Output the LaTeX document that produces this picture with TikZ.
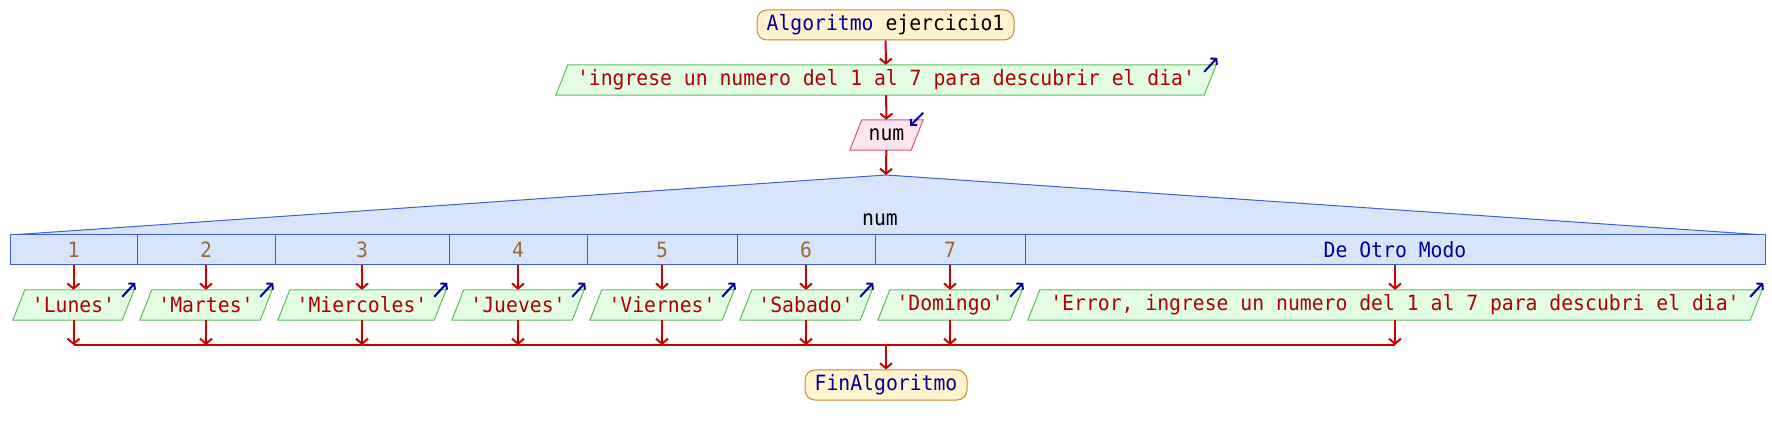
\documentclass[tikz,border=0pt]{standalone}
\usepackage{fontspec}
\setmonofont[FakeStretch=0.94]{DejaVu Sans Mono}
\usetikzlibrary{arrows.meta,backgrounds}
\definecolor{termfill}{HTML}{FFF2CF}
\definecolor{termdraw}{HTML}{C8882C}
\definecolor{outfill}{HTML}{E3FDE3}
\definecolor{outdraw}{HTML}{5CBF5C}
\definecolor{infill}{HTML}{FFE3EF}
\definecolor{indraw}{HTML}{CC5A8A}
\definecolor{swfill}{HTML}{D6E4FC}
\definecolor{swdraw}{HTML}{3E60CC}
\definecolor{flowred}{HTML}{CC0000}
\definecolor{strred}{HTML}{B00000}
\definecolor{kwblue}{HTML}{000099}
\definecolor{numbrown}{HTML}{9A6A35}
\newcommand\parabox[3]{%
  \filldraw[fill=#2,draw=#3,line width=1pt] (#1.south west) -- ([xshift=12pt]#1.north west) -- (#1.north east) -- ([xshift=-12pt]#1.south east) -- cycle;}
\begin{document}
\begin{tikzpicture}[x=1pt,y=-1pt,
  txt/.style={font=\ttfamily\fontsize{21}{25}\selectfont,inner sep=0pt},
  term/.style={txt,draw=termdraw,fill=termfill,rounded corners=10pt,line width=1pt,minimum height=30pt},
  outbox/.style={txt,minimum height=30pt,text=strred},
  inbox/.style={txt,minimum height=30pt,text=black},
  cell/.style={txt,draw=swdraw,fill=swfill,line width=1pt,minimum height=30pt,text=numbrown},
  flow/.style={draw=flowred,line width=2pt,-{Straight Barb[length=5pt,width=12pt]}},
  plain/.style={draw=flowred,line width=2pt},
  io/.style={draw=kwblue,line width=2pt,-{Straight Barb[length=4pt,width=9pt]}}
]
\useasboundingbox (0,0) rectangle (1772,435);

% start
\node[term,minimum width=257pt] (start) at (885.5,25) {\textcolor{kwblue}{Algoritmo} ejercicio1};
% top output
\node[outbox,minimum width=660pt] (out0) at (886,80) {'ingrese un numero del 1 al 7 para descubrir el dia'};
% input
\node[inbox,minimum width=73pt] (inp) at (886.5,135) {num};

% switch
\coordinate (apex) at (886,175);
\filldraw[fill=swfill,draw=swdraw,line width=1pt] (10,235) -- (apex) -- (1765,235);
\node[txt] (swlabel) at (880,220) {num};
\node[cell,minimum width=127pt] (c1) at (73.5,250) {1};
\node[cell,minimum width=138pt] (c2) at (206,250) {2};
\node[cell,minimum width=174pt] (c3) at (362,250) {3};
\node[cell,minimum width=138pt] (c4) at (518,250) {4};
\node[cell,minimum width=150pt] (c5) at (662,250) {5};
\node[cell,minimum width=138pt] (c6) at (806,250) {6};
\node[cell,minimum width=150pt] (c7) at (950,250) {7};
\node[cell,minimum width=740pt,text=kwblue] (c8) at (1395,250) {De Otro Modo};

% case outputs
\node[outbox,minimum width=121pt] (o1) at (73.5,305) {'Lunes'};
\node[outbox,minimum width=132pt] (o2) at (206,305) {'Martes'};
\node[outbox,minimum width=168pt] (o3) at (362,305) {'Miercoles'};
\node[outbox,minimum width=132pt] (o4) at (518,305) {'Jueves'};
\node[outbox,minimum width=144pt] (o5) at (662,305) {'Viernes'};
\node[outbox,minimum width=132pt] (o6) at (806,305) {'Sabado'};
\node[outbox,minimum width=144pt] (o7) at (950,305) {'Domingo'};
\node[outbox,minimum width=734pt] (o8) at (1395,305) {'Error, ingrese un numero del 1 al 7 para descubri el dia'};

% end
\node[term,minimum width=162pt,text=kwblue] (fin) at (886,385) {FinAlgoritmo};

\begin{scope}[on background layer]
  \parabox{out0}{outfill}{outdraw}
  \parabox{inp}{infill}{indraw}
  \foreach \n in {o1,o2,o3,o4,o5,o6,o7,o8}{\parabox{\n}{outfill}{outdraw}}
\end{scope}

% io markers
\foreach \n in {out0,o1,o2,o3,o4,o5,o6,o7,o8}{
  \draw[io] ([xshift=-12pt,yshift=-7pt]\n.north east) -- ([xshift=1pt,yshift=7pt]\n.north east);
}
\draw[io] ([yshift=7pt]inp.north east) -- ([xshift=-13pt,yshift=-6pt]inp.north east);

% connectors
\draw[flow] (start) -- (out0);
\draw[flow] (out0) -- (inp);
\draw[flow] (inp) -- (apex);
\foreach \i in {1,...,8}{\draw[flow] (c\i.south) -- (o\i.north);}
\coordinate (jL) at (73.5,345);
\coordinate (jR) at (1395,345);
\coordinate (jM) at (886,345);
\draw[plain] (jL) -- (jR);
\foreach \i in {1,...,8}{\draw[flow] (o\i.south) -- (o\i.south |- jL);}
\draw[flow] (jM) -- (fin);
\end{tikzpicture}
\end{document}
